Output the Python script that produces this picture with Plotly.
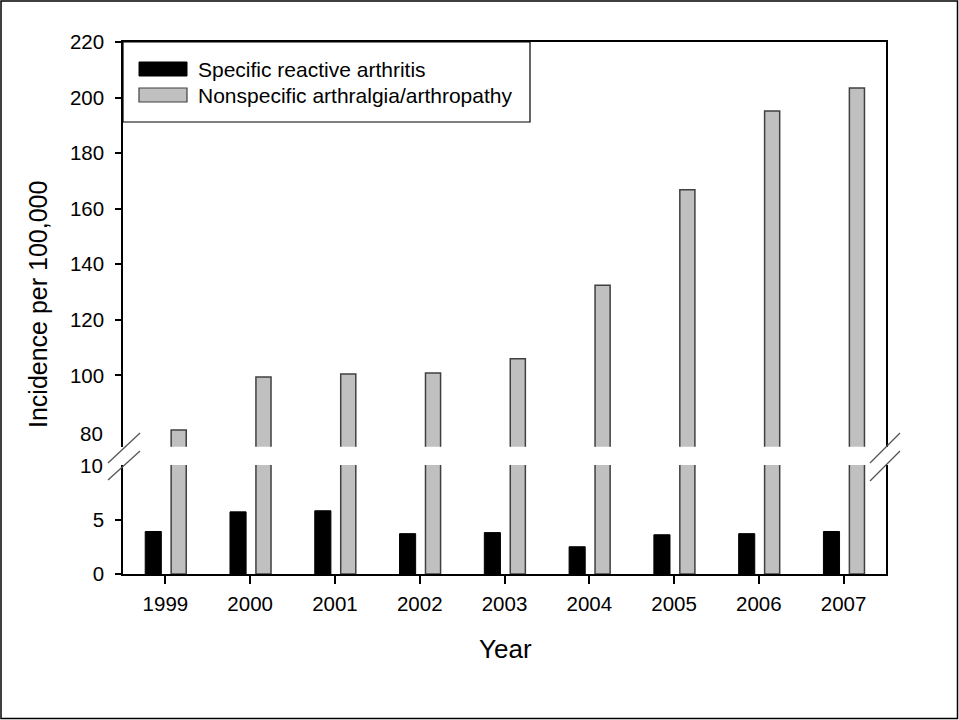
import plotly.graph_objects as go

years = [1999, 2000, 2001, 2002, 2003, 2004, 2005, 2006, 2007]
specific_reactive = [3.9, 5.7, 5.8, 3.7, 3.8, 2.5, 3.6, 3.7, 3.9]
nonspecific = [80.3, 99.4, 100.5, 100.8, 106.0, 132.4, 166.8, 195.2, 203.4]
series_names = ["Specific reactive arthritis", "Nonspecific arthralgia/arthropathy"]
upper_ticks = [100, 120, 140, 160, 180, 200, 220]
lower_ticks = [0, 5]

W, H = 959, 720
L, R, T, B = 123, 886, 42, 574
PW, PH = R - L, B - T
FONT = "Arial, Liberation Sans, sans-serif"


def px(x):
    return (x - L) / PW


def py(y):
    return (B - y) / PH


low_top = py(465)
up_bot = py(446.7)

fig = go.Figure()
fig.add_trace(go.Bar(x=years, y=specific_reactive, name=series_names[0],
                     offset=-0.238, width=0.19,
                     marker=dict(color="black", line=dict(color="black", width=1)),
                     xaxis="x", yaxis="y", showlegend=False))
fig.add_trace(go.Bar(x=years, y=nonspecific, name=series_names[1],
                     offset=0.068, width=0.178,
                     marker=dict(color="#c0c0c0", line=dict(color="#404040", width=1.5)),
                     xaxis="x", yaxis="y", showlegend=False))
fig.add_trace(go.Bar(x=years, y=nonspecific, name=series_names[1],
                     offset=0.068, width=0.178,
                     marker=dict(color="#c0c0c0", line=dict(color="#404040", width=1.5)),
                     xaxis="x2", yaxis="y2", showlegend=False))

axis_font = dict(family=FONT, size=20.5, color="black")

fig.update_layout(
    width=W, height=H,
    margin=dict(l=L, r=W - R, t=T, b=H - B, pad=0),
    paper_bgcolor="white", plot_bgcolor="white",
    barmode="overlay",
    showlegend=False,
    xaxis=dict(domain=[0, 1], range=[1998.5, 2007.5], tickvals=years,
               ticktext=[str(y) for y in years], ticks="outside", ticklen=8,
               tickwidth=1.5, tickcolor="black", showline=True, linecolor="black",
               linewidth=1.5, showgrid=False, zeroline=False, tickfont=axis_font,
               ticklabelstandoff=3, anchor="y"),
    yaxis=dict(domain=[0, low_top], range=[0, 10], tickvals=lower_ticks,
               ticks="outside", ticklen=6, tickwidth=1.5, tickcolor="black",
               showline=True, linecolor="black", linewidth=1.5, mirror=True,
               showgrid=False, zeroline=False, tickfont=axis_font,
               ticklabelstandoff=7, anchor="x"),
    xaxis2=dict(domain=[0, 1], range=[1998.5, 2007.5], side="top",
                showticklabels=False, ticks="", showline=True, linecolor="black",
                linewidth=1.5, showgrid=False, zeroline=False, anchor="y2"),
    yaxis2=dict(domain=[up_bot, 1], range=[74.3, 220], tickvals=upper_ticks,
                ticks="outside", ticklen=6, tickwidth=1.5, tickcolor="black",
                showline=True, linecolor="black", linewidth=1.5, mirror=True,
                showgrid=False, zeroline=False, tickfont=axis_font,
                ticklabelstandoff=7, anchor="x2"),
)

shapes = []
# outer frame
shapes.append(dict(type="rect", xref="paper", yref="paper",
                   x0=px(1), x1=px(957.5), y0=py(1), y1=py(718.5),
                   line=dict(color="black", width=1.5)))
# break marks
for (x0, y0, x1, y1) in [(108, 463, 140, 433), (108, 480, 140, 451),
                         (870, 463, 900, 433), (870, 481, 900, 451)]:
    shapes.append(dict(type="line", xref="paper", yref="paper",
                       x0=px(x0), y0=py(y0), x1=px(x1), y1=py(y1),
                       line=dict(color="#555555", width=1.3)))
# legend box
shapes.append(dict(type="rect", xref="paper", yref="paper",
                   x0=px(123), x1=px(530), y0=py(42), y1=py(122),
                   fillcolor="white", line=dict(color="black", width=1.2), layer="above"))
shapes.append(dict(type="rect", xref="paper", yref="paper",
                   x0=px(139), x1=px(187), y0=py(62), y1=py(76),
                   fillcolor="black", line=dict(color="black", width=1), layer="above"))
shapes.append(dict(type="rect", xref="paper", yref="paper",
                   x0=px(139), x1=px(187), y0=py(88), y1=py(102),
                   fillcolor="#c0c0c0", line=dict(color="#404040", width=1.2), layer="above"))
fig.update_layout(shapes=shapes)

annotations = [
    dict(text=series_names[0], x=px(196), y=py(69), xanchor="left", yanchor="middle"),
    dict(text=series_names[1], x=px(196), y=py(95), xanchor="left", yanchor="middle"),
]
annotations = [dict(a, xref="paper", yref="paper", showarrow=False,
                    font=dict(family=FONT, size=21, color="black")) for a in annotations]
# tick labels at the break (no tick marks there)
for lbl, ypix in [("80", 433), ("10", 465)]:
    annotations.append(dict(text=lbl, xref="paper", yref="paper", x=px(104.5), y=py(ypix),
                            xanchor="right", yanchor="middle", showarrow=False,
                            font=axis_font))
annotations.append(dict(text="Incidence per 100,000", xref="paper", yref="paper",
                        x=px(38), y=py(305), textangle=-90, xanchor="center",
                        yanchor="middle", showarrow=False,
                        font=dict(family=FONT, size=25, color="black")))
annotations.append(dict(text="Year", xref="paper", yref="paper",
                        x=px(505), y=py(649), xanchor="center", yanchor="middle",
                        showarrow=False, font=dict(family=FONT, size=26, color="black")))
fig.update_layout(annotations=annotations)

fig.write_html("out.html", config={"displayModeBar": False},
               post_script="document.body.style.margin='0';document.body.style.overflow='hidden';")
